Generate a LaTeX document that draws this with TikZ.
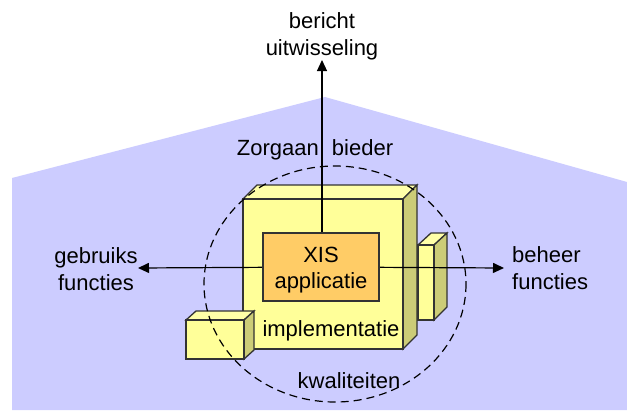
\documentclass[tikz,border=0pt]{standalone}
\usepackage{fontspec}
\setmainfont{Liberation Sans}
\usetikzlibrary{arrows.meta}
\definecolor{house}{HTML}{CCCCFF}
\definecolor{boxfront}{HTML}{FFFF99}
\definecolor{boxtop}{HTML}{FFFFA8}
\definecolor{boxside}{HTML}{CCCC77}
\definecolor{xisfill}{HTML}{FFCC66}
\definecolor{edge}{HTML}{333333}
\tikzset{
  lbl/.style={font=\fontsize{22}{27}\selectfont, inner sep=0pt},
  face/.style={draw=edge, line width=1.3pt, line join=miter},
  conn/.style={draw=black, line width=1.2pt, -{Triangle[length=11pt,width=10pt]}},
}
\begin{document}
\begin{tikzpicture}[x=1pt,y=-1pt]
\useasboundingbox (0,0) rectangle (627,410);
\fill[white] (0,0) rectangle (627,410);
% house
\fill[house] (12,410) -- (12,178) -- (325,97) -- (627,182) -- (627,410) -- cycle;
% right small box (behind)
\filldraw[face, fill=boxtop] (418,245) -- (431,233) -- (447,233) -- (434,245) -- cycle;
\filldraw[face, fill=boxside] (434,245) -- (447,233) -- (447,307) -- (434,320) -- cycle;
\filldraw[face, fill=boxfront] (418,245) rectangle (434,320);
% big box
\filldraw[face, fill=boxtop] (243,199) -- (257,185) -- (417,185) -- (403,199) -- cycle;
\filldraw[face, fill=boxside] (403,199) -- (417,185) -- (417,335) -- (403,349) -- cycle;
\filldraw[face, fill=boxfront] (243,199) rectangle (403,349);
\node[lbl, anchor=base] (impl) at (331,336) {implementatie};
% left small box
\filldraw[face, fill=boxtop] (186,320) -- (196,311) -- (254,311) -- (244,320) -- cycle;
\filldraw[face, fill=boxside] (244,320) -- (254,311) -- (254,350) -- (244,359) -- cycle;
\filldraw[face, fill=boxfront] (186,320) rectangle (244,359);
% labels (base anchor = baseline of last line)
\node[lbl, align=center, anchor=base] (ber) at (322,55) {bericht\\uitwisseling};
\node[lbl, align=center, anchor=base] (geb) at (96,290) {gebruiks\\functies};
\node[lbl, align=left, anchor=base west] (beh) at (512,289) {beheer\\functies};
\node[lbl, anchor=base] (zorg) at (315,155) {Zorgaan\hspace{0.6em}bieder};
\node[lbl, anchor=base] (kwal) at (349,388) {kwaliteiten};
% connectors
\coordinate (xc) at (321,267);
\coordinate (top) at (322,60);
\coordinate (lft) at (138,268);
\coordinate (rgt) at (504,268);
\draw[conn] (322,267) -- (top);
\draw[conn] (xc) -- (lft);
\draw[conn] (xc) -- (rgt);
% XIS box
\node[draw=edge, line width=1.3pt, fill=xisfill, minimum width=116pt, minimum height=68pt, inner sep=0pt] (xis) at (321,267) {};
\node[lbl, anchor=base] (xist) at (321,262) {XIS};
\node[lbl, anchor=base] (appt) at (321,288) {applicatie};
% dashed circle
\draw[black, line width=1.2pt, dash pattern=on 8pt off 5pt] (335,284) ellipse [x radius=131, y radius=118];
\end{tikzpicture}
\end{document}
